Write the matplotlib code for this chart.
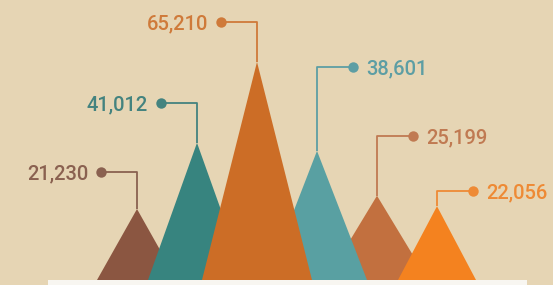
import matplotlib.pyplot as plt
from matplotlib.patches import Polygon, Rectangle

# values shown on the peaks
values = [21230, 41012, 65210, 38601, 25199, 22056]
labels = ['21,230', '41,012', '65,210', '38,601', '25,199', '22,056']
fill_colors = ['#8b5641', '#37847f', '#cc6d26', '#59a0a2', '#c2703f', '#f4821f']
text_colors = ['#8a6150', '#44837f', '#cf7a3a', '#5d9ea4', '#c07a52', '#ee8a35']

# layout (pixels)
half_w = [40, 49, 55, 50, 51, 39]
rise = [37, 40, 40, 84, 60, 15]
zord = [1, 2, 4, 3, 2, 3]
W, H = 553, 285
x0_px, step_px = 137, 60       # first peak, spacing
base_px = 5                      # base line above the bottom edge
per_px = 299.0                   # value units per pixel

bg = '#e6d5b4'
fig = plt.figure(figsize=(W / 100, H / 100), dpi=100, facecolor=bg)
ax = fig.add_axes([0, 0, 1, 1])
ax.set_facecolor(bg)
ax.set_xlim(-x0_px / step_px, (W - x0_px) / step_px)
ax.set_ylim(-base_px * per_px, (H - base_px) * per_px)
ax.axis('off')

px_x = 1.0 / step_px
px_y = per_px

# white band under the peaks
ax.add_patch(Rectangle(((48 - x0_px) * px_x, -base_px * px_y), (527 - 48) * px_x, base_px * px_y,
                       facecolor='#f8f6f1', edgecolor='none', zorder=0))

for i, v in enumerate(values):
    hw = half_w[i] * px_x
    ax.add_patch(Polygon([(i - hw, 0), (i, v), (i + hw, 0)], closed=True,
                         facecolor=fill_colors[i], edgecolor='none', zorder=zord[i]))
    side = -1 if i < 3 else 1
    ly = v + rise[i] * px_y
    dx = 36 * px_x * side
    ax.plot([i, i, i + dx], [v, ly, ly], color=text_colors[i], lw=1.3,
            zorder=0.5, solid_capstyle='butt')
    ax.plot(i + dx, ly, 'o', ms=7.5, color=text_colors[i], mec='none', zorder=5)
    ax.text(i + dx + side * 13 * px_x, ly, labels[i], color=text_colors[i],
            fontsize=14.5, family='Roboto', fontweight='medium',
            ha='right' if side < 0 else 'left', va='center_baseline', zorder=5)

fig.savefig('out.png', dpi=100, facecolor=bg)
